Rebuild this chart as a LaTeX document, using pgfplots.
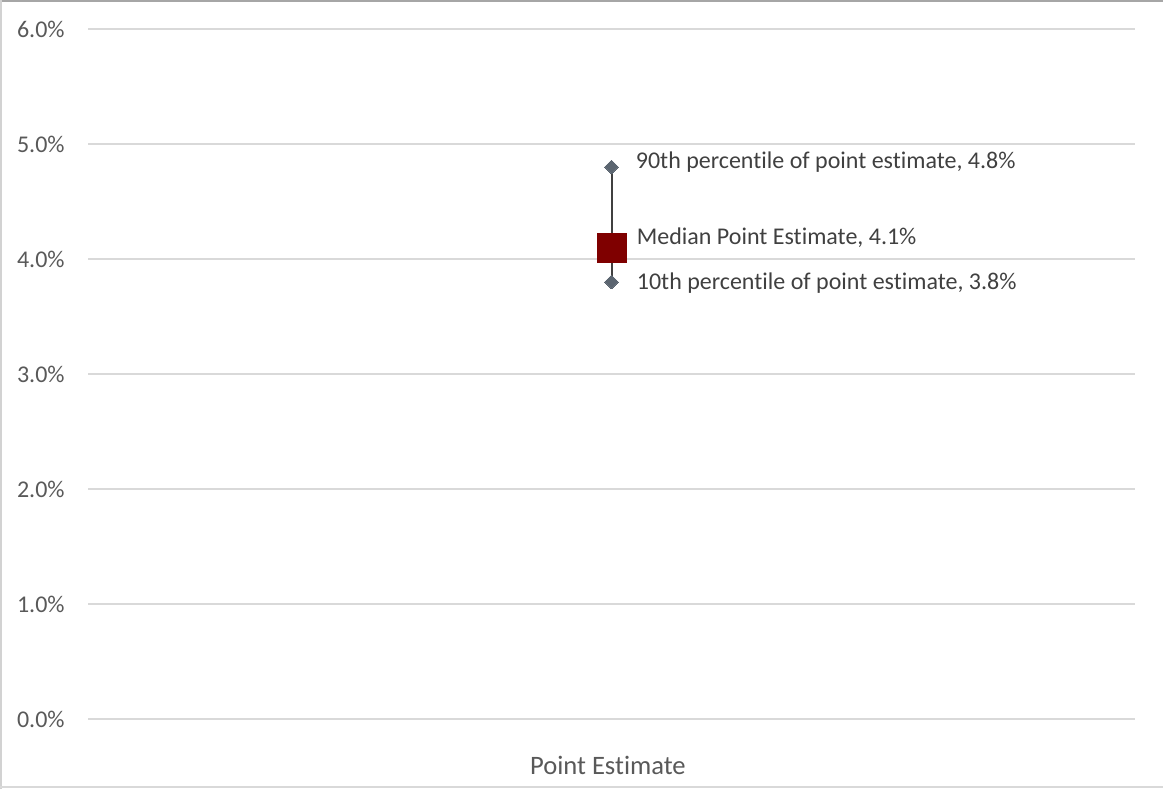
\documentclass[border=0pt]{standalone}
\usepackage{fontspec}
\setmainfont{Carlito}[Ligatures={NoCommon}]
\usepackage{pgfplots}
\pgfplotsset{compat=1.18}
\definecolor{gridc}{HTML}{D9D9D9}
\definecolor{tickc}{HTML}{595959}
\definecolor{labc}{HTML}{404040}
\definecolor{medc}{HTML}{7F0000}
\definecolor{pctc}{HTML}{5B6570}
\begin{document}
\begin{tikzpicture}[x=1pt,y=1pt]
\useasboundingbox (0,0) rectangle (581.5,394.5);
\draw[line width=1pt, color=gray!70] (0,393.9) -- (581.5,393.9);
\draw[line width=0.8pt, color=gray!35] (0.4,0) -- (0.4,394.5);
\draw[line width=0.8pt, color=gridc] (0,0.9) -- (581.5,0.9);
\begin{axis}[
  at={(44pt,35pt)}, anchor=south west,
  scale only axis, width=523.5pt, height=345pt,
  xmin=-0.5, xmax=0.5, ymin=0, ymax=6,
  ytick={0,1,2,3,4,5,6},
  yticklabel={\pgfmathprintnumber[fixed,fixed zerofill,precision=1]{\tick}\%},
  xtick={0}, xticklabels={Point Estimate},
  axis line style={draw=none},
  major tick length=0pt,
  ymajorgrids,
  grid style={gridc, line width=1pt},
  tick label style={tickc, font=\fontsize{12}{14}\selectfont},
  yticklabel style={anchor=east, inner sep=0pt, xshift=-11.5pt},
  xticklabel style={anchor=center, inner sep=0pt, yshift=-23pt, xshift=-1.8pt, font=\fontsize{13.3}{15}\selectfont},
  /pgf/number format/assume math mode=true,
  clip=false,
]
\addplot[only marks, mark=square*, mark size=7.25pt, mark options={fill=medc, draw=medc, line width=0pt}] coordinates {(0,4.1)};
\addplot[only marks, mark=square*, mark size=2.45pt, mark options={rotate=45, fill=pctc, draw=pctc, line width=0pt}] coordinates {(0,3.8) (0,4.8)};
\addplot[labc, line width=1pt] coordinates {(0,3.8) (0,4.8)};
\node[anchor=west, inner sep=0pt, labc, font=\fontsize{12}{14}\selectfont, xshift=12pt, yshift=2.5pt] at (axis cs:0,4.8) {90th percentile of point estimate, 4.8\%};
\node[anchor=west, inner sep=0pt, labc, font=\fontsize{12}{14}\selectfont, xshift=12.5pt, yshift=4.75pt] at (axis cs:0,4.1) {Median Point Estimate, 4.1\%};
\node[anchor=west, inner sep=0pt, labc, font=\fontsize{12}{14}\selectfont, xshift=12.5pt, yshift=-0.5pt] at (axis cs:0,3.8) {10th percentile of point estimate, 3.8\%};
\end{axis}
\end{tikzpicture}
\end{document}
